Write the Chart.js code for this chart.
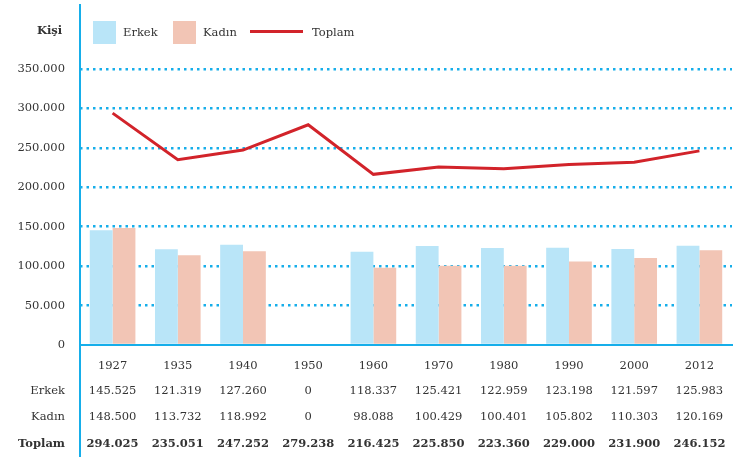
<!DOCTYPE html>
<html>
<head>
<meta charset="utf-8">
<script src="https://cdn.jsdelivr.net/npm/chart.js@4.4.1/dist/chart.umd.min.js"></script>
<style>
  html, body { margin: 0; padding: 0; background: #fff; }
  #wrap { position: relative; width: 743px; height: 457px; }
  .lg { position: absolute; font-family: "DejaVu Serif", serif; font-size: 11.5px; color: #333; }
  .box { position: absolute; width: 23px; height: 23px; }
</style>
</head>
<body>
<div id="wrap">
  <canvas id="c" width="743" height="457"></canvas>
  <div class="lg" style="left:37px; top:23px; font-weight:bold;">Kişi</div>
  <div class="box" style="left:93px; top:21px; background:#b9e5f8;"></div>
  <div class="lg" style="left:123px; top:25px;">Erkek</div>
  <div class="box" style="left:173px; top:21px; background:#f2c5b5;"></div>
  <div class="lg" style="left:203px; top:25px;">Kadın</div>
  <div style="position:absolute; left:250px; top:30px; width:53px; height:3px; background:#d2232a;"></div>
  <div class="lg" style="left:312px; top:25px;">Toplam</div>
</div>
<script>
// Data
var years = ['1927', '1935', '1940', '1950', '1960', '1970', '1980', '1990', '2000', '2012'];
var erkek = [145525, 121319, 127260, 0, 118337, 125421, 122959, 123198, 121597, 125983];
var kadin = [148500, 113732, 118992, 0, 98088, 100429, 100401, 105802, 110303, 120169];
var toplam = [294025, 235051, 247252, 279238, 216425, 225850, 223360, 229000, 231900, 246152];
var yTicks = [0, 50000, 100000, 150000, 200000, 250000, 300000, 350000];

var BLUE = '#16aeea';
var TEXT = '#333333';
var FONT = '"DejaVu Serif", serif';

function fmt(v) {
    // Turkish thousands separator
    return v.toString().replace(/\B(?=(\d{3})+(?!\d))/g, '.');
}

// Draws the vertical axis line and the value table under the x axis
var tablePlugin = {
    id: 'tablePlugin',
    afterDraw: function(chart) {
        var ctx = chart.ctx;
        var x = chart.scales.x;
        ctx.save();
        ctx.strokeStyle = BLUE;
        ctx.lineWidth = 2;
        ctx.beginPath();
        ctx.moveTo(80, 4);
        ctx.lineTo(80, 457);
        ctx.stroke();

        var rows = [
            { label: 'Erkek', data: erkek, y: 391, bold: false },
            { label: 'Kadın', data: kadin, y: 417, bold: false },
            { label: 'Toplam', data: toplam, y: 444, bold: true }
        ];
        ctx.fillStyle = TEXT;
        ctx.textBaseline = 'middle';
        rows.forEach(function(r) {
            ctx.font = (r.bold ? 'bold ' : '') + '11.5px ' + FONT;
            ctx.textAlign = 'right';
            ctx.fillText(r.label, 65, r.y);
            ctx.textAlign = 'center';
            for (var i = 0; i < r.data.length; i++) {
                ctx.fillText(fmt(r.data[i]), x.getPixelForValue(i), r.y);
            }
        });
        ctx.restore();
    }
};

new Chart(document.getElementById('c'), {
    data: {
        labels: years,
        datasets: [
            {
                type: 'line',
                label: 'Toplam',
                data: toplam,
                borderColor: '#d2232a',
                borderWidth: 3,
                pointRadius: 0,
                tension: 0,
                order: 0
            },
            {
                type: 'bar',
                label: 'Erkek',
                data: erkek,
                backgroundColor: '#b9e5f8',
                categoryPercentage: 0.7,
                barPercentage: 1,
                order: 1
            },
            {
                type: 'bar',
                label: 'Kadın',
                data: kadin,
                backgroundColor: '#f2c5b5',
                categoryPercentage: 0.7,
                barPercentage: 1,
                order: 1
            }
        ]
    },
    options: {
        responsive: false,
        animation: false,
        layout: { padding: { top: 69, right: 11, left: 0, bottom: 0 } },
        plugins: {
            legend: { display: false },
            tooltip: { enabled: false }
        },
        scales: {
            x: {
                grid: { display: false },
                border: { display: true, color: BLUE, width: 2 },
                ticks: { color: TEXT, font: { family: FONT, size: 11.5 }, padding: 6 },
                afterFit: function(s) { s.height = 112; }
            },
            y: {
                min: 0,
                max: 350000,
                afterBuildTicks: function(s) {
                    s.ticks = yTicks.map(function(v) { return { value: v }; });
                },
                afterFit: function(s) { s.width = 80; },
                border: { display: false, dash: [2.5, 4] },
                grid: {
                    drawTicks: false,
                    lineWidth: 2.5,
                    color: function(c) { return c.tick && c.tick.value === 0 ? 'rgba(0,0,0,0)' : BLUE; }
                },
                ticks: {
                    color: TEXT,
                    padding: 15,
                    font: { family: FONT, size: 11.5 },
                    callback: function(v) { return fmt(v); }
                }
            }
        }
    },
    plugins: [tablePlugin]
});
</script>
</body>
</html>
